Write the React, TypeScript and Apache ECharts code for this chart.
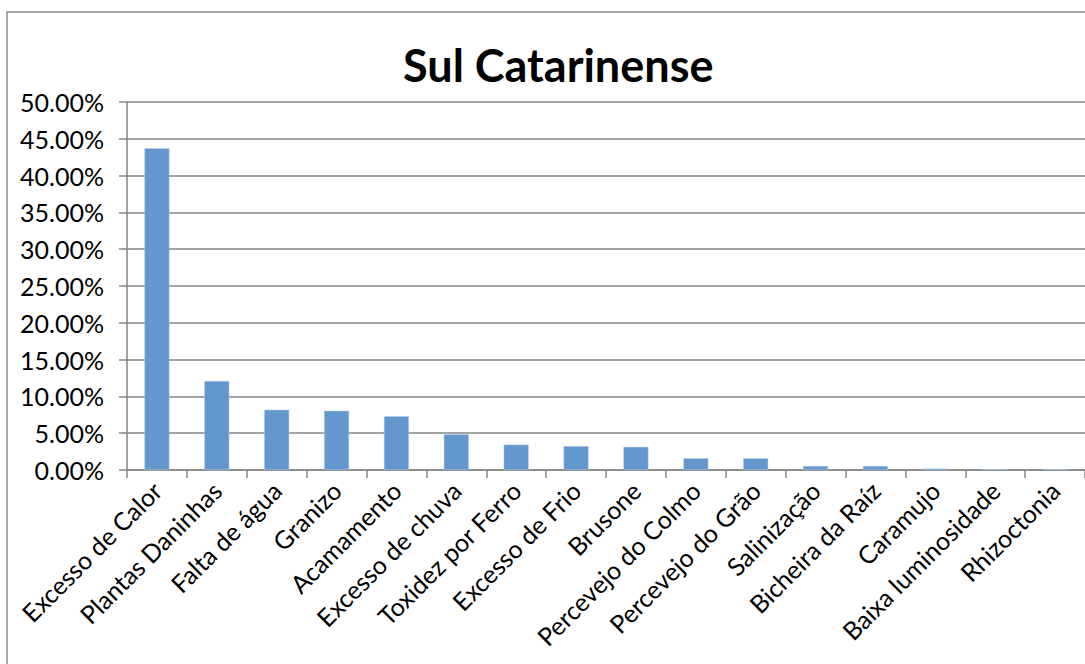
import React, { useEffect, useRef } from "react";
import * as echarts from "echarts";

const categories = [
  "Excesso de Calor",
  "Plantas Daninhas",
  "Falta de água",
  "Granizo",
  "Acamamento",
  "Excesso de chuva",
  "Toxidez por Ferro",
  "Excesso de Frio",
  "Brusone",
  "Percevejo do Colmo",
  "Percevejo do Grão",
  "Salinização",
  "Bicheira da Raíz",
  "Caramujo",
  "Baixa luminosidade",
  "Rhizoctonia",
];

const values = [
  43.7, 12.1, 8.2, 8.05, 7.3, 4.85, 3.45, 3.25, 3.15, 1.6, 1.6, 0.55, 0.55, 0.2, 0.13, 0.13,
];

const yTicks = { min: 0, max: 50, interval: 5 };
const title = "Sul Catarinense";

export default function App() {
  const ref = useRef<HTMLDivElement>(null);
  useEffect(() => {
    if (!ref.current) return;
    const chart = echarts.init(ref.current, undefined, { renderer: "svg" });
    const font = "Lato, 'Open Sans', sans-serif";
    chart.setOption({
      animation: false,
      backgroundColor: "#ffffff",
      title: {
        text: title,
        left: 398,
        top: 37,
        textStyle: { fontFamily: font, fontWeight: "bold", fontSize: 45, color: "#000" },
      },
      graphic: [
        {
          type: "rect",
          shape: { x: 7, y: 12, width: 1100, height: 700 },
          style: { fill: "none", stroke: "#8c8c8c", lineWidth: 1.5 },
          silent: true,
        },
      ],
      grid: { left: 127, top: 102, bottom: 194, right: -6 },
      xAxis: {
        type: "category",
        data: categories,
        axisLine: { lineStyle: { color: "#868686", width: 1.5 } },
        axisTick: { show: true, length: 8, alignWithLabel: false, lineStyle: { color: "#868686", width: 1.5 } },
        axisLabel: {
          rotate: 45,
          interval: 0,
          margin: 16,
          fontFamily: font,
          fontSize: 25,
          color: "#000",
        },
      },
      yAxis: {
        type: "value",
        min: yTicks.min,
        max: yTicks.max,
        interval: yTicks.interval,
        axisLine: { show: true, lineStyle: { color: "#868686", width: 1.5 } },
        axisTick: { show: true, length: 8, lineStyle: { color: "#868686", width: 1.5 } },
        splitLine: { lineStyle: { color: "#868686", width: 1.5 } },
        axisLabel: {
          margin: 23,
          fontFamily: font,
          fontSize: 25,
          color: "#000",
          formatter: (v: number) => v.toFixed(2) + "%",
        },
      },
      series: [
        {
          type: "bar",
          data: values,
          barWidth: 25,
          itemStyle: { color: "#6397CD", borderColor: "#b9cfe8", borderWidth: 0.5 },
        },
      ],
    });
    return () => chart.dispose();
  }, []);
  return (
    <div
      ref={ref}
      style={{ position: "fixed", left: 0, top: 0, width: 1085, height: 664 }}
    />
  );
}
